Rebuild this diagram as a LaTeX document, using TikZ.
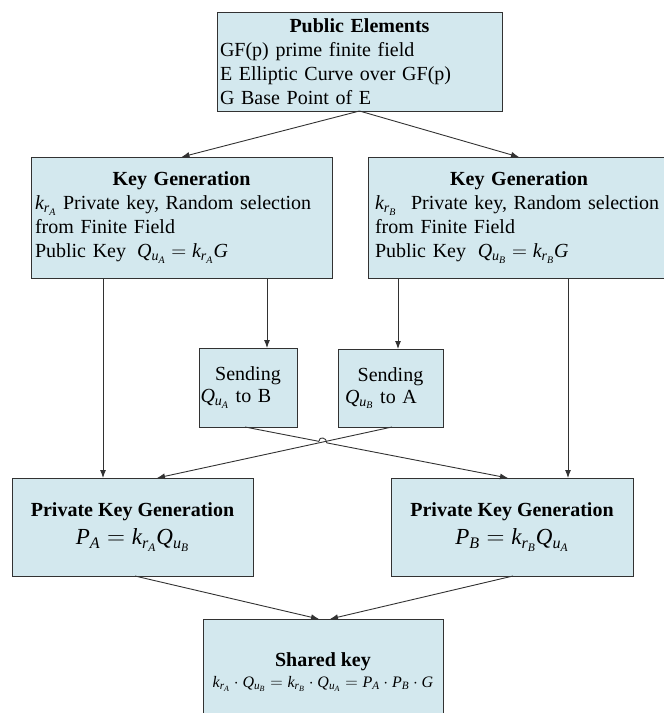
\documentclass[tikz,border=0pt]{standalone}
\usepackage{fontspec}
\setmainfont{Liberation Serif}
\usetikzlibrary{arrows.meta,calc}
\definecolor{boxfill}{RGB}{211,232,238}
\definecolor{edgecol}{RGB}{50,50,50}
\newcommand\mv[1]{\mathit{#1}}
\newcommand\kRA{\mv{k}_{\mv{r}_{\mv{A}}}}
\newcommand\kRB{\mv{k}_{\mv{r}_{\mv{B}}}}
\newcommand\QUA{\mv{Q}_{\mv{u}_{\mv{A}}}}
\newcommand\QUB{\mv{Q}_{\mv{u}_{\mv{B}}}}
\tikzset{
  box/.style={draw=edgecol, fill=boxfill, line width=1pt, inner sep=0pt, outer sep=0pt,
    anchor=center, font=\fontsize{20}{24}\selectfont},
  arr/.style={draw=edgecol, line width=0.9pt, -{Latex[length=8pt,width=6pt]}},
  ln/.style={draw=edgecol, line width=0.9pt}
}
\begin{document}
\begin{tikzpicture}[x=1pt,y=-1pt]
\useasboundingbox (0,0) rectangle (664,713);
% Public elements
\node[box, minimum width=285pt, minimum height=99pt, text width=279pt, align=left] (pub) at (359.5,61.5)
 {\makebox[\hsize]{\bfseries Public Elements}\\
  GF(p) prime finite field\\
  E Elliptic Curve over GF(p)\\
  G Base Point of E};
% key generation
\node[box, minimum width=301pt, minimum height=121pt, text width=293pt, align=left] (kgA) at (181.5,217.5)
 {\makebox[\hsize]{\bfseries Key Generation}\\
  $\kRA$ Private key, Random selection\\
  from Finite Field\\
  Public Key\hspace{0.55em}$\QUA = \kRA\mv{G}$};
\node[box, minimum width=302pt, minimum height=121pt, text width=288pt, align=left] (kgB) at (519,217.5)
 {\makebox[\hsize]{\bfseries Key Generation}\\
  $\kRB$\hspace{0.4em} Private key, Random selection\\
  from Finite Field\\
  Public Key\hspace{0.25em} $\QUB = \kRB\mv{G}$};
% sending
\node[box, minimum width=98pt, minimum height=79pt, text width=95pt, align=left] (sA) at (248,387.5)
 {\makebox[\hsize]{Sending}\\[-2pt]
  $\QUA$ to B};
\node[box, minimum width=105pt, minimum height=78pt, text width=91pt, align=left] (sB) at (390.5,388)
 {\makebox[\hsize]{Sending}\\[-2pt]
  $\QUB$ to A};
% private key generation
\node[box, minimum width=241pt, minimum height=98pt, align=center] (pA) at (132.5,527)
 {{\bfseries Private Key Generation}\\[4pt]
  {\fontsize{23}{26}\selectfont $\mv{P}_{\mv{A}} = \kRA\QUB$}};
\node[box, minimum width=242pt, minimum height=98pt, align=center] (pB) at (512,527)
 {{\bfseries Private Key Generation}\\[4pt]
  {\fontsize{23}{26}\selectfont $\mv{P}_{\mv{B}} = \kRB\QUA$}};
% shared
\node[box, minimum width=240pt, minimum height=106pt, align=center] (sh) at (323,672)
 {{\bfseries Shared key}\\[-3pt]
  {\fontsize{16}{18}\selectfont $\kRA\cdot\QUB = \kRB\cdot\QUA = \mv{P}_{\mv{A}}\cdot\mv{P}_{\mv{B}}\cdot\mv{G}$}};
% connectors
\draw[arr] (pub.south) -- (kgA.north);
\draw[arr] (pub.south) -- (kgB.north);
\draw[arr] ($(kgA.south west)+(72,0)$) coordinate (a1) -- (a1 |- pA.north);
\draw[arr] ($(kgA.south west)+(236,0)$) coordinate (a2) -- (a2 |- sA.north);
\draw[arr] ($(kgB.south west)+(30,0)$) coordinate (b1) -- (b1 |- sB.north);
\draw[arr] ($(kgB.south west)+(200,0)$) coordinate (b2) -- (b2 |- pB.north);
% crossing lines
\coordinate (s1) at ($(sA.south west)+(46,0)$);
\coordinate (e1) at ($(pB.north west)+(117,0)$);
\coordinate (s2) at ($(sB.south west)+(54,0)$);
\coordinate (e2) at ($(pA.north west)+(145,0)$);
\draw[arr] (s2) -- (e2);
\draw[ln] (s1) -- ($(s1)!0.281!(e1)$) coordinate (h1);
\coordinate (h2) at ($(s1)!0.311!(e1)$);
\draw[ln] (h1) .. controls ($(h1)+(0,-5.5)$) and ($(h2)+(0,-5.5)$) .. (h2);
\draw[arr] (h2) -- (e1);
% to shared
\draw[arr] ($(pA.south west)+(123,0)$) -- ($(sh.north west)+(116,0)$);
\draw[arr] ($(pB.south west)+(122,0)$) -- ($(sh.north west)+(127,0)$);
\end{tikzpicture}
\end{document}
